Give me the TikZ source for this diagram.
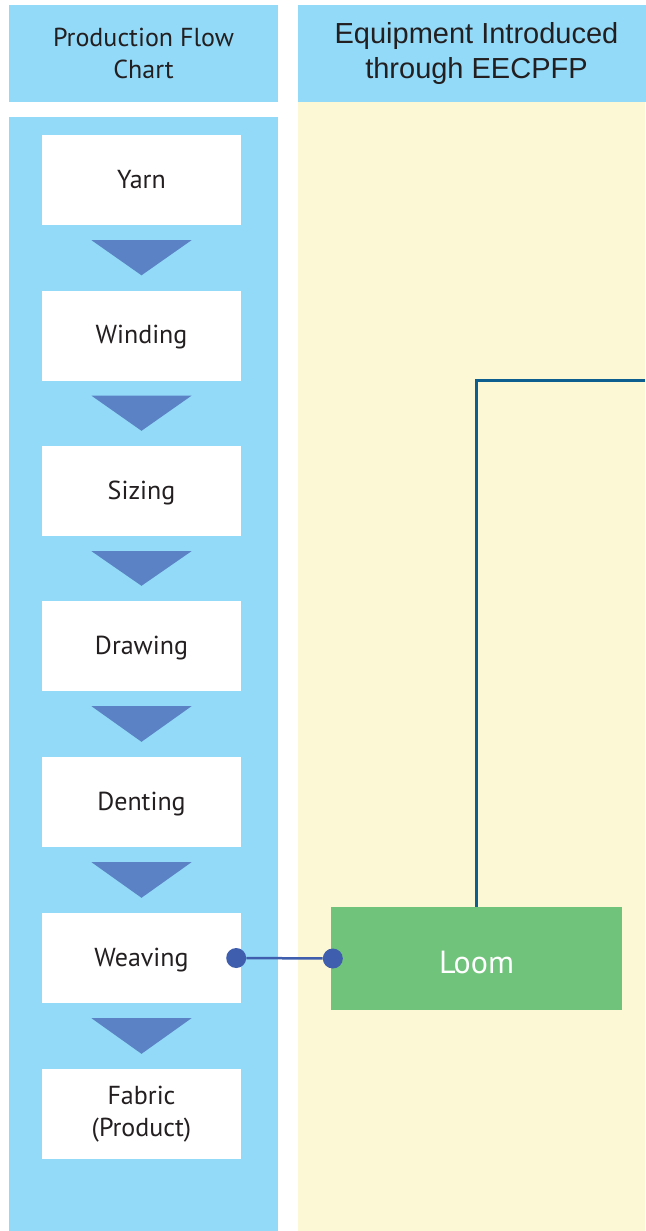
\documentclass[tikz,border=0pt]{standalone}
\usepackage{fontspec}
\setmainfont{PT Sans}
\newfontfamily\headfont{Liberation Sans}
\usetikzlibrary{calc}
\definecolor{skyblue}{HTML}{92DAF8}
\definecolor{paleyellow}{HTML}{FCF8D6}
\definecolor{arrowblue}{HTML}{5B82C4}
\definecolor{loomgreen}{HTML}{70C37A}
\definecolor{linkblue}{HTML}{3F5FAE}
\definecolor{lineblue}{HTML}{0D5F8F}
\definecolor{inkgray}{HTML}{231F20}
\tikzset{
    headbox/.style={fill=skyblue, inner sep=0pt, align=center, text=inkgray},
    stepbox/.style={fill=white, minimum width=199pt, minimum height=90pt, inner sep=0pt,
        text height=16pt, text depth=0pt,
        align=center, text=inkgray, font=\fontsize{26}{32}\selectfont},
    machinebox/.style={fill=loomgreen, minimum width=291pt, minimum height=103pt, inner sep=0pt,
        text height=29pt, text depth=0pt,
        text=white, font=\fontsize{32}{38}\selectfont},
    dot/.style={circle, fill=linkblue, inner sep=0pt, minimum size=20pt}
}
\begin{document}
\begin{tikzpicture}[x=1pt,y=-1pt]
        \useasboundingbox (0,0) rectangle (645,1231);
        % columns
        \fill[skyblue] (9,117) rectangle (278,1231);
        \fill[paleyellow] (298,102) rectangle (645,1231);
        \node[headbox, minimum width=269pt, minimum height=97pt, font=\fontsize{26}{32}\selectfont]
            (flowhead) at (143.5,53.5) {Production Flow\\Chart};
        \node[headbox, minimum width=357pt, minimum height=97pt, font=\headfont\fontsize{29}{35}\selectfont]
            (equiphead) at (476.5,53.5) {Equipment Introduced\\through EECPFP};
        % production steps
        \node[stepbox] (yarn) at (141.5,180) {Yarn};
        \node[stepbox] (winding) at (141.5,335.5) {Winding};
        \node[stepbox] (sizing) at (141.5,491) {Sizing};
        \node[stepbox] (drawing) at (141.5,646) {Drawing};
        \node[stepbox] (denting) at (141.5,802) {Denting};
        \node[stepbox] (weaving) at (141.5,958) {Weaving};
        \node[stepbox, text height=44pt] (fabric) at (141.5,1114) {Fabric\\(Product)};
        \foreach \a/\b in {yarn/winding, winding/sizing, sizing/drawing, drawing/denting, denting/weaving, weaving/fabric}
            \fill[arrowblue] ($(\a.south)+(-50,15)$) -- ($(\a.south)+(50,15)$) -- ($(\b.north)+(0,-15)$) -- cycle;
        % equipment
        \node[machinebox] (loom) at (476.5,958.5) {Loom};
        \coordinate (edge) at (645,380);
        \draw[lineblue, line width=3pt] (loom.north) |- (edge);
        \node[dot] (dotA) at ($(weaving.east)+(-5,0)$) {};
        \node[dot] (dotB) at ($(loom.west)+(2,0)$) {};
        \draw[linkblue, line width=2.5pt] (dotA) -- (dotB);
\end{tikzpicture}
\end{document}
